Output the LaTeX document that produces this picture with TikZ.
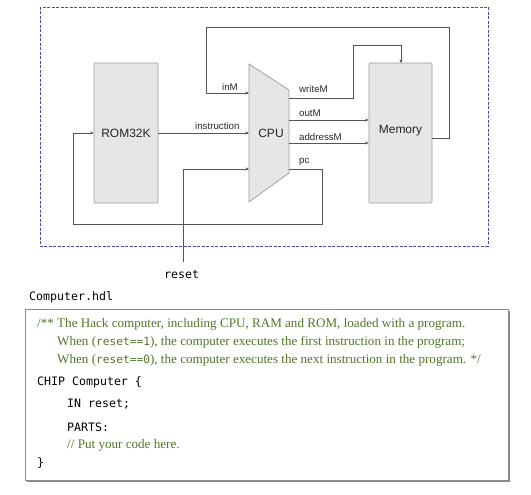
\documentclass[tikz,border=0pt]{standalone}
\usepackage{fontspec}
\setmainfont{Liberation Serif}
\newfontfamily\diagsans{Liberation Sans}
\newfontfamily\codemono{DejaVu Sans Mono}
\usetikzlibrary{arrows.meta}
\definecolor{wire}{HTML}{555555}
\definecolor{boxfill}{HTML}{E6E6E6}
\definecolor{boxedge}{HTML}{9A9A9A}
\definecolor{frameblue}{HTML}{4646C8}
\definecolor{cmtgreen}{HTML}{52762A}
\tikzset{
  chipbox/.style={draw=boxedge, fill=boxfill, line width=0.7pt, rounded corners=1pt},
  wireline/.style={draw=wire, line width=0.6pt},
  wirearrow/.style={wireline, -{Stealth[length=3.5pt,width=3pt]}},
  biglabel/.style={font=\diagsans\fontsize{12}{14}\selectfont, text=black!85},
  pinlabel/.style={font=\diagsans\fontsize{9.7}{11}\selectfont, text=black!85, anchor=base west, inner sep=0pt},
  codeline/.style={font=\codemono\fontsize{11.6}{13}\selectfont, anchor=base west, inner sep=0pt},
  cmtline/.style={font=\fontsize{13.1}{15}\selectfont, text=cmtgreen, anchor=base west, inner sep=0pt},
}
\begin{document}
\begin{tikzpicture}[x=1pt,y=-1pt]
\useasboundingbox (0,0) rectangle (531,495);
% frame
\draw[frameblue, line width=0.8pt, dash pattern=on 3pt off 1.5pt] (40,7) rectangle (488,246);
% blocks
\node[chipbox, minimum width=64pt, minimum height=140pt] (rom) at (126,133) {};
\node[biglabel] at (rom.center) {ROM32K};
\node[chipbox, minimum width=63pt, minimum height=140pt] (mem) at (400.5,133) {};
\node[biglabel] at (400.5,131) {Memory};
\draw[draw=boxedge, fill=boxfill, line width=0.7pt] (249,64) -- (289,90) -- (289,173) -- (249,202) -- cycle;
\node[biglabel] (cpu) at (271,133) {CPU};
% CPU pins
\coordinate (cpuInM) at (249,93);
\coordinate (cpuInstr) at (249,133);
\coordinate (cpuReset) at (249,169);
\coordinate (cpuWrite) at (289,98);
\coordinate (cpuOut) at (289,120);
\coordinate (cpuAddr) at (289,143);
\coordinate (cpuPc) at (289,169);
\coordinate (resetEnd) at (183,262);
% wires
\draw[wirearrow] (mem.east |- 0,138) -- (449,138) -- (449,27) -- (206,27) -- (206,93) -- (cpuInM);
\draw[wirearrow] (cpuWrite) -- (353,98) -- (353,45) -- (401,45) -- (401,63);
\draw[wirearrow] (cpuOut) -- (mem.west |- cpuOut);
\draw[wirearrow] (cpuAddr) -- (mem.west |- cpuAddr);
\draw[wirearrow] (rom.east |- cpuInstr) -- (cpuInstr);
\draw[wirearrow] (cpuPc) -- (322,169) -- (322,224) -- (73,224) -- (73,133) -- (rom.west |- 0,133);
\draw[wirearrow] (resetEnd) -- (183,169) -- (cpuReset);
% pin labels
\node[pinlabel] (lInM) at (222,91) {inM};
\node[pinlabel] (lInstr) at (195,129) {instruction};
\node[pinlabel] (lWrite) at (299,93) {writeM};
\node[pinlabel] (lOut) at (299,117) {outM};
\node[pinlabel] (lAddr) at (299,141) {addressM};
\node[pinlabel] (lPc) at (299,164) {pc};
\node[codeline] (lReset) at (164,278) {reset};
% code box
\node[codeline] (fname) at (29,300) {Computer.hdl};
\fill[black!45] (27,311) rectangle (510,482);
\draw[draw=black!45, fill=white, line width=0.8pt] (25,309) rectangle (508,480);
\node[cmtline] (c1) at (37,327) {/** The Hack computer, including CPU, RAM and ROM, loaded with a program.};
\node[cmtline] (c2) at (57,345) {When ({\codemono\fontsize{11.2}{13}\selectfont reset==1}), the computer executes the first instruction in the program;};
\node[cmtline] (c3) at (57,363) {When ({\codemono\fontsize{11.2}{13}\selectfont reset==0}), the computer executes the next instruction in the program. */};
\node[codeline] (k1) at (37,385) {CHIP Computer \{};
\node[codeline] (k2) at (67,407) {IN reset;};
\node[codeline] (k3) at (67,431) {PARTS:};
\node[cmtline] (k4) at (67,448) {// Put your code here.};
\node[codeline] (k5) at (37,466) {\}};
\end{tikzpicture}
\end{document}
